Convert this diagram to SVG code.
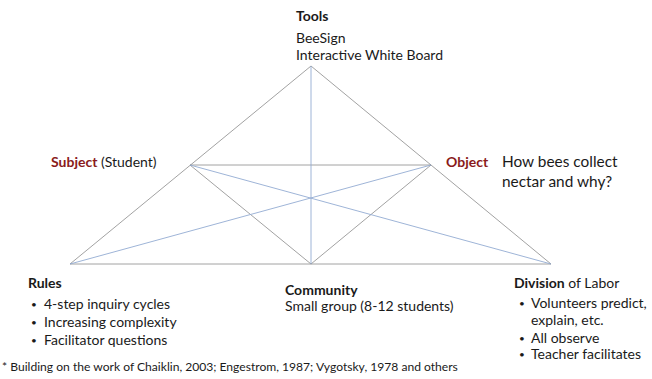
<svg xmlns="http://www.w3.org/2000/svg" width="652" height="379" viewBox="0 0 652 379">
<style>
text{font-family:Lato,"Liberation Sans",sans-serif;font-size:14px;fill:#1a1a1a}
.b{font-weight:bold}
.red{fill:#8a1b1b}
.big{font-size:15.4px}
.small{font-size:12.1px}
.dot{font-size:10px}
.g{stroke:#8a8a8a;stroke-width:0.8;fill:none}
.bl{stroke:#93acd3;stroke-width:0.9;fill:none}
</style>
<rect width="652" height="379" fill="#fff"/>
<g id="connectors">
<line class="g" x1="311" y1="66" x2="70" y2="264"/>
<line class="g" x1="311" y1="66" x2="551" y2="264"/>
<line class="g" x1="70" y1="264" x2="551" y2="264"/>
<line class="g" x1="190" y1="165" x2="431" y2="165"/>
<line class="g" x1="190" y1="165" x2="311" y2="264"/>
<line class="g" x1="431" y1="165" x2="311" y2="264"/>
<line class="bl" x1="311" y1="66" x2="311" y2="264"/>
<line class="bl" x1="190" y1="165" x2="551" y2="264"/>
<line class="bl" x1="431" y1="165" x2="70" y2="264"/>
</g>
<g id="tools">
<text x="296" y="21" class="b">Tools</text>
<text x="296" y="43">BeeSign</text>
<text x="296" y="60">Interactive White Board</text>
</g>
<g id="subject">
<text x="51" y="167"><tspan class="b red">Subject</tspan> (Student)</text>
</g>
<g id="object">
<text x="446" y="167" class="b red">Object</text>
<text x="502" y="167" class="big">How bees collect</text>
<text x="502" y="187" class="big">nectar and why?</text>
</g>
<g id="rules">
<text x="28" y="288" class="b">Rules</text>
<text x="31" y="308" class="dot">•</text><text x="44" y="309">4-step inquiry cycles</text>
<text x="31" y="326" class="dot">•</text><text x="44" y="327">Increasing complexity</text>
<text x="31" y="344" class="dot">•</text><text x="44" y="345">Facilitator questions</text>
</g>
<g id="community">
<text x="285" y="295" class="b">Community</text>
<text x="285" y="311">Small group (8-12 students)</text>
</g>
<g id="division">
<text x="514" y="288"><tspan class="b">Division</tspan> of Labor</text>
<text x="519" y="307" class="dot">•</text><text x="531" y="308">Volunteers predict,</text>
<text x="531" y="325">explain, etc.</text>
<text x="519" y="342" class="dot">•</text><text x="531" y="343">All observe</text>
<text x="519" y="358" class="dot">•</text><text x="531" y="359">Teacher facilitates</text>
</g>
<g id="footnote">
<text x="2" y="371" class="small">* Building on the work of Chaiklin, 2003; Engestrom, 1987; Vygotsky, 1978 and others</text>
</g>
</svg>
